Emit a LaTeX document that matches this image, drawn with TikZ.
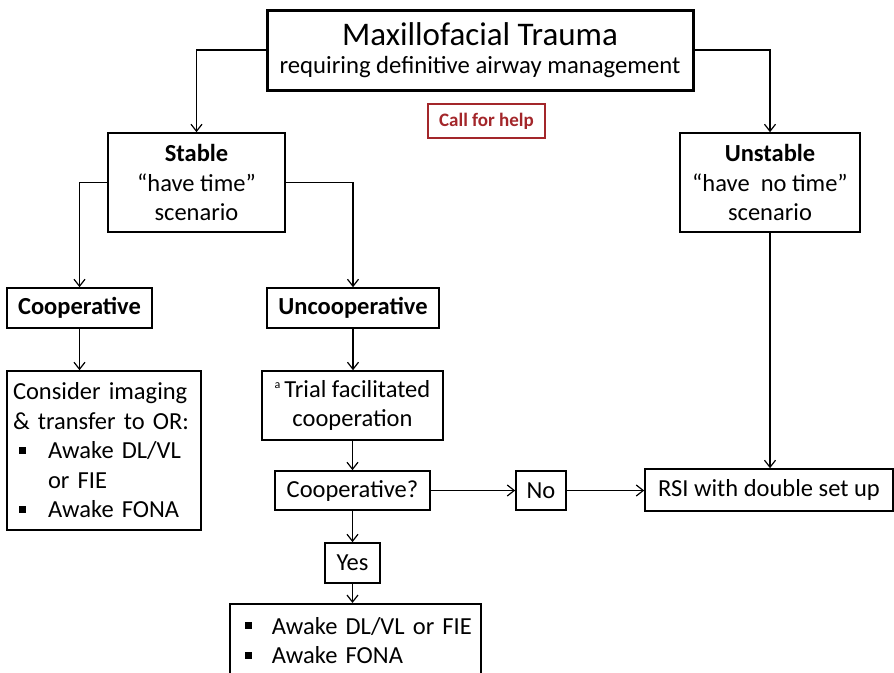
\documentclass[tikz,border=0pt]{standalone}
\usepackage{fontspec}
\setmainfont{Carlito}
\usetikzlibrary{arrows.meta}
\definecolor{helpred}{HTML}{A3262A}
\newcommand{\sqbul}{\rule[5pt]{7pt}{7pt}}
\begin{document}
\begin{tikzpicture}[x=1pt,y=-1pt,
  box/.style={draw=black, line width=1.6pt, inner sep=0pt, align=center, font=\fontsize{24.5}{29.5}\selectfont},
  arr/.style={line width=1.2pt, -{Straight Barb[length=7pt,width=11pt,line width=1.2pt]}},
  ln/.style={line width=1.2pt}]
\useasboundingbox (0,0) rectangle (894,672);
\node[box, line width=3pt, minimum width=426pt, minimum height=80pt] (top) at (480,50)
  {{\fontsize{33}{36}\selectfont Maxillofacial Trauma}\\[-2pt]{\fontsize{24.7}{28}\selectfont requiring definitive airway management}};
\node[box, draw=helpred, text=helpred, minimum width=117pt, minimum height=34pt, font=\fontsize{19}{22}\selectfont\bfseries] (help) at (486.5,121) {Call for help};
\node[box, minimum width=177pt, minimum height=99pt] (stable) at (196.5,182.5) {\textbf{Stable}\\“have time”\\scenario};
\node[box, minimum width=180pt, minimum height=99pt] (unstable) at (770,182.5) {\textbf{Unstable}\\“have\ \ no time”\\scenario};
\node[box, minimum width=145pt, minimum height=40pt, font=\fontsize{24.5}{29.5}\selectfont\bfseries] (coop) at (79.5,308) {Cooperative};
\node[box, minimum width=172pt, minimum height=40pt, font=\fontsize{24.5}{29.5}\selectfont\bfseries] (uncoop) at (353,308) {Uncooperative};
\node[box, minimum width=194pt, minimum height=159pt, text width=182pt, align=left] (consider) at (104,450.5)
  {Consider imaging\\\& transfer to OR:\\\makebox[35pt][l]{\hspace{6pt}\sqbul}Awake DL/VL\\\hspace*{35pt}or FIE\\\makebox[35pt][l]{\hspace{6pt}\sqbul}Awake FONA};
\node[box, minimum width=181pt, minimum height=69pt] (trial) at (352.5,405.5) {\raisebox{9pt}{\fontsize{12}{12}\selectfont a}\,Trial facilitated\\cooperation};
\node[box, minimum width=155pt, minimum height=39pt] (coopq) at (352.5,490.5) {Cooperative?};
\node[box, minimum width=50pt, minimum height=39pt] (no) at (541,490.5) {No};
\node[box, minimum width=248pt, minimum height=42pt] (rsi) at (769,490) {RSI with double set up};
\node[box, minimum width=55pt, minimum height=40pt] (yes) at (352.5,563) {Yes};
\node[box, minimum width=251pt, minimum height=74pt, text width=237pt, align=left, anchor=north west] (final) at (229,603)
  {\makebox[35pt][l]{\hspace{8pt}\sqbul}Awake DL/VL or FIE\\\makebox[35pt][l]{\hspace{8pt}\sqbul}Awake FONA};
\draw[arr] (top.west) -| (stable.north);
\draw[arr] (top.east) -| (unstable.north);
\draw[arr] (stable.west) -| (coop.north);
\draw[arr] (stable.east) -| (uncoop.north);
\draw[arr] (coop.south) -- (coop.south |- consider.north);
\draw[arr] (uncoop.south) -- (uncoop.south |- trial.north);
\draw[arr] (trial.south) -- (coopq.north);
\draw[arr] (coopq.east) -- (no.west);
\draw[arr] (no.east) -- (rsi.west |- no.east);
\draw[arr] (unstable.south) -- (unstable.south |- rsi.north);
\draw[arr] (coopq.south) -- (yes.north);
\draw[arr] (yes.south) -- (yes.south |- final.north);
\end{tikzpicture}
\end{document}
